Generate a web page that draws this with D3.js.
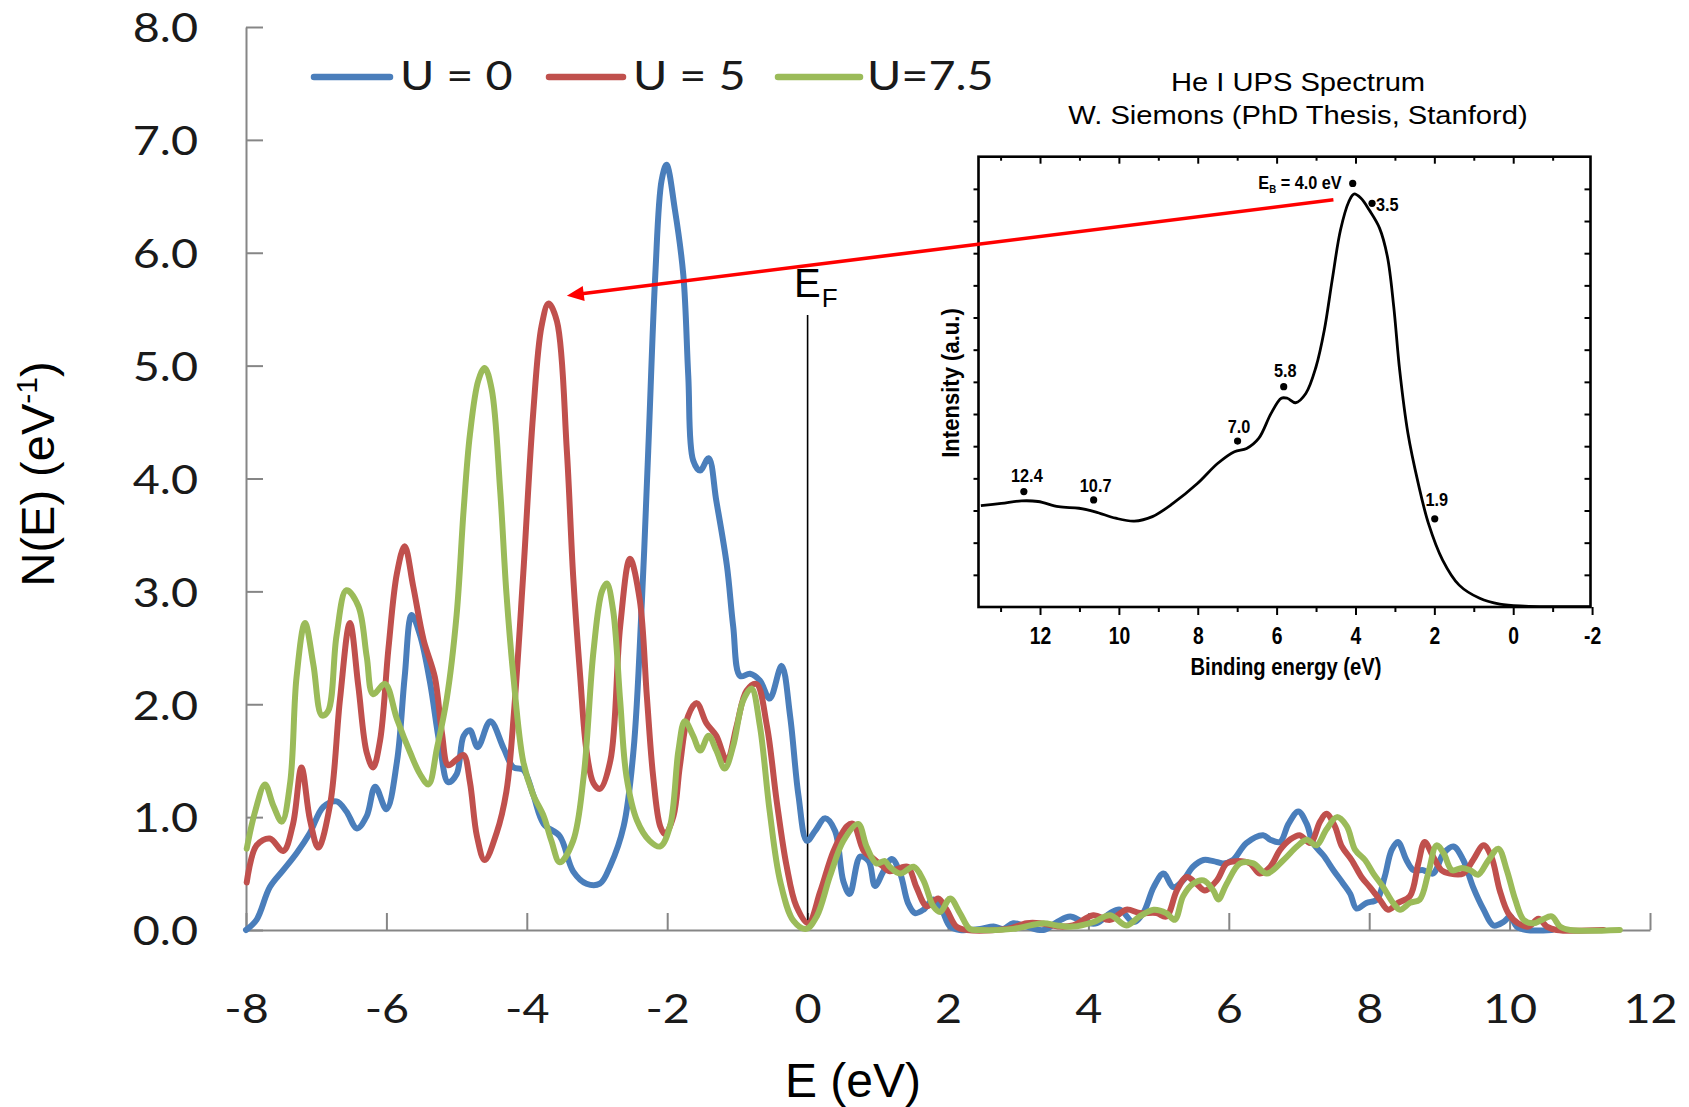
<!DOCTYPE html>
<html><head><meta charset="utf-8">
<script src="https://cdn.jsdelivr.net/npm/d3@7"></script>
<style>
html,body{margin:0;padding:0;background:#fff;}
svg{display:block;}
</style></head><body>
<svg id="chart" width="1689" height="1107"></svg>
<script>
// ---------------- DATA ----------------
const xTicks = [-8,-6,-4,-2,0,2,4,6,8,10,12];
const yTicks = [0,1,2,3,4,5,6,7,8];
const seriesNames = ["U = 0","U = 5","U=7.5"];
const seriesColors = ["#4A7EBB","#C0504D","#9BBB59"];

const u0E = [-8.0,-7.85,-7.66,-7.47,-7.28,-7.09,-6.90,-6.71,-6.57,-6.42,-6.28,-6.16,-6.0,-5.85,-5.74,-5.64,-5.52,-5.38,-5.24,-5.12,-5.0,-4.90,-4.81,-4.70,-4.52,-4.33,-4.19,-4.05,-3.91,-3.76,-3.53,-3.34,-3.15,-2.96,-2.81,-2.62,-2.48,-2.36,-2.27,-2.17,-2.08,-2.01,-1.89,-1.77,-1.70,-1.63,-1.53,-1.41,-1.30,-1.15,-1.06,-0.96,-0.82,-0.68,-0.54,-0.37,-0.25,-0.13,-0.01,0.11,0.25,0.39,0.51,0.60,0.75,0.87,0.96,1.08,1.20,1.32,1.43,1.53,1.65,1.79,1.91,2.03,2.17,2.46,2.65,2.79,2.93,3.12,3.36,3.55,3.74,3.93,4.12,4.31,4.45,4.64,4.78,4.93,5.07,5.21,5.35,5.49,5.64,5.78,5.92,6.06,6.25,6.49,6.59,6.73,6.85,6.99,7.11,7.20,7.35,7.49,7.63,7.73,7.82,7.96,8.11,8.22,8.32,8.41,8.53,8.63,8.77,8.91,9.06,9.20,9.34,9.48,9.63,9.77,9.91,10.01,10.10,10.24,10.60];
const u0N = [0,0.09,0.38,0.53,0.68,0.86,1.09,1.14,1.05,0.90,1.01,1.27,1.07,1.49,2.24,2.79,2.61,2.20,1.64,1.31,1.38,1.72,1.77,1.62,1.85,1.61,1.44,1.42,1.20,0.94,0.83,0.52,0.41,0.41,0.57,0.92,1.59,2.92,4.25,5.80,6.64,6.78,6.38,5.80,4.91,4.16,4.07,4.18,3.80,3.23,2.69,2.25,2.27,2.21,2.05,2.34,1.90,1.19,0.79,0.88,0.99,0.88,0.43,0.32,0.65,0.61,0.39,0.52,0.63,0.50,0.24,0.15,0.18,0.27,0.18,0.03,0.0,0.01,0.03,0.01,0.06,0.03,0.0,0.07,0.12,0.07,0.06,0.15,0.18,0.07,0.15,0.38,0.50,0.38,0.44,0.56,0.62,0.61,0.59,0.62,0.77,0.84,0.80,0.78,0.94,1.05,0.94,0.77,0.66,0.53,0.41,0.32,0.19,0.24,0.27,0.47,0.71,0.78,0.62,0.53,0.53,0.50,0.68,0.74,0.62,0.38,0.18,0.04,0.07,0.12,0.03,0,0];

const u5E = [-7.99,-7.85,-7.66,-7.47,-7.33,-7.21,-7.09,-6.97,-6.80,-6.66,-6.52,-6.40,-6.28,-6.19,-6.09,-5.97,-5.85,-5.74,-5.62,-5.47,-5.31,-5.21,-5.12,-5.0,-4.90,-4.81,-4.71,-4.60,-4.43,-4.29,-4.19,-4.05,-3.91,-3.79,-3.69,-3.57,-3.43,-3.34,-3.24,-3.15,-3.05,-2.96,-2.81,-2.67,-2.53,-2.39,-2.29,-2.20,-2.10,-2.03,-1.91,-1.82,-1.70,-1.58,-1.44,-1.30,-1.15,-1.01,-0.87,-0.73,-0.58,-0.44,-0.30,-0.16,0.01,0.18,0.37,0.56,0.65,0.80,0.94,1.06,1.17,1.32,1.43,1.55,1.70,1.86,1.98,2.12,2.27,2.84,3.12,3.31,3.59,3.78,4.07,4.31,4.54,4.73,4.97,5.11,5.26,5.40,5.54,5.66,5.83,5.97,6.11,6.30,6.44,6.59,6.73,6.87,7.01,7.16,7.30,7.39,7.51,7.61,7.75,7.89,8.01,8.15,8.27,8.41,8.58,8.70,8.79,8.91,9.03,9.15,9.34,9.48,9.63,9.74,9.86,9.98,10.12,10.27,10.41,10.53,10.67,11.34];
const u5N = [0.42,0.75,0.81,0.70,0.94,1.44,0.98,0.73,1.12,2.05,2.72,2.16,1.57,1.44,1.68,2.50,3.16,3.40,3.05,2.57,2.24,1.75,1.46,1.51,1.55,1.31,0.83,0.62,0.86,1.23,1.87,3.16,4.57,5.35,5.55,5.39,4.25,3.14,2.25,1.59,1.30,1.25,1.50,2.69,3.29,2.92,2.07,1.36,0.92,0.85,1.01,1.45,1.90,2.01,1.83,1.72,1.50,1.81,2.12,2.18,1.81,1.14,0.57,0.21,0.06,0.34,0.70,0.92,0.94,0.70,0.63,0.57,0.52,0.55,0.56,0.38,0.21,0.28,0.18,0.03,0,0.01,0.06,0.06,0.03,0.04,0.13,0.09,0.18,0.15,0.15,0.12,0.35,0.47,0.41,0.35,0.44,0.59,0.61,0.59,0.50,0.56,0.71,0.80,0.84,0.77,0.96,1.03,0.92,0.74,0.62,0.47,0.38,0.27,0.18,0.24,0.30,0.59,0.78,0.65,0.53,0.50,0.50,0.62,0.75,0.65,0.35,0.15,0.06,0.03,0.10,0.03,0,0];

const u75E = [-7.99,-7.87,-7.73,-7.61,-7.49,-7.37,-7.28,-7.16,-7.04,-6.92,-6.83,-6.71,-6.57,-6.40,-6.28,-6.19,-6.02,-5.85,-5.66,-5.52,-5.40,-5.28,-5.14,-5.0,-4.90,-4.81,-4.69,-4.60,-4.50,-4.38,-4.29,-4.19,-4.05,-3.91,-3.76,-3.65,-3.53,-3.34,-3.19,-3.05,-2.93,-2.86,-2.77,-2.67,-2.58,-2.43,-2.25,-2.10,-1.96,-1.84,-1.75,-1.63,-1.53,-1.41,-1.30,-1.18,-1.06,-0.92,-0.80,-0.68,-0.54,-0.39,-0.20,-0.02,0.13,0.32,0.51,0.72,0.84,0.98,1.10,1.17,1.32,1.51,1.65,1.79,1.89,2.03,2.17,2.31,2.46,2.93,3.36,3.55,3.78,4.07,4.31,4.54,4.73,4.93,5.11,5.23,5.35,5.49,5.64,5.78,5.85,5.97,6.16,6.35,6.54,6.78,6.97,7.11,7.25,7.39,7.54,7.68,7.80,7.94,8.06,8.20,8.34,8.44,8.58,8.72,8.84,8.96,9.06,9.18,9.32,9.44,9.55,9.70,9.84,9.96,10.08,10.20,10.34,10.46,10.60,10.72,10.86,11.57];
const u75N = [0.72,1.05,1.29,1.10,0.96,1.31,2.24,2.72,2.35,1.90,1.94,2.61,3.01,2.87,2.42,2.09,2.18,1.87,1.57,1.38,1.29,1.61,2.05,2.79,3.72,4.39,4.87,4.98,4.79,3.90,2.98,2.24,1.49,1.20,1.01,0.79,0.60,0.79,1.36,2.47,3.00,3.07,2.83,2.03,1.36,0.97,0.79,0.74,0.92,1.59,1.85,1.72,1.59,1.72,1.59,1.43,1.63,2.03,2.14,1.81,1.05,0.43,0.08,0.01,0.12,0.48,0.79,0.94,0.74,0.59,0.61,0.56,0.50,0.56,0.44,0.21,0.16,0.28,0.15,0.01,0,0.01,0.06,0.04,0.03,0.07,0.13,0.04,0.12,0.18,0.15,0.09,0.30,0.41,0.44,0.35,0.27,0.41,0.59,0.59,0.50,0.62,0.74,0.80,0.75,0.89,1.00,0.92,0.71,0.62,0.50,0.38,0.24,0.18,0.24,0.27,0.50,0.75,0.68,0.53,0.55,0.53,0.49,0.62,0.72,0.53,0.27,0.09,0.06,0.09,0.12,0.03,0,0];

// Inset: He I UPS spectrum (binding energy in eV, intensity in a.u.)
const insetXTicks = [12,10,8,6,4,2,0,-2];
const insetXMinor = [13,11,9,7,5,3,1,-1];
const insetYTicks = [1,2,3,4,5,6,7,8,9,10,11,12,13];
const insetBE = [13.50,12.98,12.47,12.05,11.53,11.01,10.60,10.08,9.61,9.15,8.63,8.01,7.49,7.07,6.76,6.45,6.14,5.88,5.73,5.52,5.26,5.00,4.79,4.59,4.38,4.17,4.04,3.86,3.65,3.39,3.19,3.03,2.88,2.67,2.41,2.15,1.79,1.37,0.85,0.34,-0.29,-1.95];
const insetI = [3.15,3.22,3.30,3.28,3.12,3.07,2.96,2.76,2.67,2.81,3.22,3.84,4.47,4.83,4.93,5.25,6.02,6.49,6.49,6.35,6.64,7.47,8.61,10.17,11.72,12.60,12.84,12.71,12.34,11.78,10.89,9.34,7.37,5.40,3.85,2.60,1.46,0.68,0.27,0.09,0.03,0.01];
const peakLabels = ["12.4","10.7","7.0","5.8","1.9","3.5","4.0"];
const peakBE = [12.41,10.64,6.99,5.82,1.99,3.58,4.07];
const peakI  = [3.59,3.33,5.16,6.85,2.74,12.55,13.17];
const insetTitle = ["He I UPS Spectrum","W. Siemons (PhD Thesis, Stanford)"];
// arrow: from inset point (BE, I) to main-chart point (E, N)
const arrowFrom = [4.56, 12.66];
const arrowTo = [-3.43, 5.62];

// ---------------- STYLE / LAYOUT ----------------
const W = 1689, H = 1107;
const svg = d3.select('#chart');
svg.append('rect').attr('width', W).attr('height', H).attr('fill', '#fff');

const x = d3.scaleLinear().domain([-8, 12]).range([246, 1650]);
const y = d3.scaleLinear().domain([0, 8]).range([930, 27]);

function stretch(sel, sx) {
  sel.each(function () {
    const t = d3.select(this);
    const tx = +t.attr('x') || 0, ty = +t.attr('y') || 0;
    t.attr('x', 0).attr('y', 0).attr('transform', `translate(${tx},${ty}) scale(${sx},1)`);
  });
}

const axisColor = '#868686';
const tickFont = 'Lato, "Open Sans", sans-serif';
const SX = 1.14;

// y axis
const yAxis = svg.append('g').attr('transform', 'translate(246,0)')
  .call(d3.axisLeft(y).tickValues(yTicks).tickSizeInner(-17).tickSizeOuter(0).tickPadding(48)
    .tickFormat(d => d.toFixed(1)));
yAxis.select('.domain').attr('stroke', axisColor).attr('stroke-width', 2);
yAxis.selectAll('.tick line').attr('stroke', axisColor).attr('stroke-width', 2);
yAxis.selectAll('.tick text').attr('font-family', tickFont).attr('font-size', 41)
  .attr('fill', '#1a1a1a').attr('dy', '0.36em');
stretch(yAxis.selectAll('.tick text'), SX);

// x axis
const xAxis = svg.append('g').attr('transform', 'translate(0,930)')
  .call(d3.axisBottom(x).tickValues(xTicks).tickSizeInner(-17).tickSizeOuter(0).tickPadding(0)
    .tickFormat(d => String(d)));
xAxis.select('.domain').attr('stroke', axisColor).attr('stroke-width', 2);
xAxis.selectAll('.tick line').attr('stroke', axisColor).attr('stroke-width', 2);
xAxis.selectAll('.tick text').attr('font-family', tickFont).attr('font-size', 41)
  .attr('fill', '#1a1a1a').attr('y', 78).attr('dy', '0.36em');
stretch(xAxis.selectAll('.tick text'), SX);

// axis titles
const yTitle = svg.append('text')
  .attr('transform', 'translate(54,474) rotate(-90)')
  .attr('text-anchor', 'middle')
  .attr('font-family', '"Liberation Sans", Arial, sans-serif')
  .attr('font-size', 47).attr('fill', '#000');
yTitle.append('tspan').text('N(E) (eV');
yTitle.append('tspan').attr('font-size', 30).attr('dy', -17).text('-1');
yTitle.append('tspan').attr('dy', 17).text(')');

svg.append('text').attr('x', 853).attr('y', 1097).attr('text-anchor', 'middle')
  .attr('font-family', '"Liberation Sans", Arial, sans-serif')
  .attr('font-size', 48).attr('fill', '#000').text('E (eV)');

// E_F marker
svg.append('line').attr('x1', x(0)).attr('x2', x(0)).attr('y1', 315).attr('y2', y(0))
  .attr('stroke', '#000').attr('stroke-width', 1.6);
const ef = svg.append('text').attr('x', 794).attr('y', 297)
  .attr('font-family', '"Liberation Sans", Arial, sans-serif').attr('font-size', 40).attr('fill', '#000');
ef.append('tspan').text('E');
ef.append('tspan').attr('font-size', 26).attr('dy', 10).attr('dx', 1).text('F');

// series lines
const line = d3.line().x(d => x(d[0])).y(d => y(d[1])).curve(d3.curveCatmullRom.alpha(0.5));
const series = [
  { name: seriesNames[0], E: u0E, N: u0N, color: seriesColors[0] },
  { name: seriesNames[1], E: u5E, N: u5N, color: seriesColors[1] },
  { name: seriesNames[2], E: u75E, N: u75N, color: seriesColors[2] }
];
svg.append('g').selectAll('path').data(series).join('path')
  .attr('d', s => line(d3.zip(s.E, s.N)))
  .attr('fill', 'none').attr('stroke', s => s.color).attr('stroke-width', 6)
  .attr('stroke-linejoin', 'round').attr('stroke-linecap', 'round');

// legend
const legendPos = [{ x1: 314, x2: 390, tx: 400 }, { x1: 549, x2: 623, tx: 633 }, { x1: 778, x2: 860, tx: 867 }];
const lg = svg.append('g');
series.forEach((s, i) => {
  const p = legendPos[i];
  lg.append('line').attr('x1', p.x1).attr('x2', p.x2).attr('y1', 77).attr('y2', 77)
    .attr('stroke', s.color).attr('stroke-width', 6.5).attr('stroke-linecap', 'round');
  lg.append('text').attr('x', p.tx).attr('y', 90).attr('font-family', tickFont)
    .attr('font-size', 41).attr('fill', '#1a1a1a').text(s.name);
});
stretch(lg.selectAll('text'), SX);

// ---------------- INSET ----------------
const ix = d3.scaleLinear().domain([13.56, -1.96]).range([978.5, 1590.5]);
const iy = d3.scaleLinear().domain([0, 14]).range([607, 156.7]);
const inset = svg.append('g');
const boldFont = '"Liberation Sans", Arial, Helvetica, sans-serif';

inset.append('rect').attr('x', 978.5).attr('y', 156.7).attr('width', 612).attr('height', 450.3)
  .attr('fill', '#fff').attr('stroke', '#000').attr('stroke-width', 2.6);

// inset title
insetTitle.forEach((t, i) => {
  const tt = inset.append('text').attr('x', 1298).attr('y', 90.5 + i * 33)
    .attr('text-anchor', 'middle').attr('font-family', boldFont).attr('font-size', 26.5)
    .attr('fill', '#000').text(t);
  stretch(tt, 1.1);
});

// bottom axis (major + minor)
const ib = inset.append('g').attr('transform', 'translate(0,607)')
  .call(d3.axisBottom(ix).tickValues(insetXTicks).tickSizeInner(8).tickSizeOuter(0).tickPadding(13)
    .tickFormat(d => String(d)));
ib.select('.domain').remove();
ib.selectAll('.tick line').attr('stroke', '#000').attr('stroke-width', 2);
ib.selectAll('.tick text').attr('font-family', boldFont).attr('font-weight', 'bold')
  .attr('font-size', 23).attr('fill', '#000');
stretch(ib.selectAll('.tick text'), 0.84);
const ibm = inset.append('g').attr('transform', 'translate(0,607)')
  .call(d3.axisBottom(ix).tickValues(insetXMinor).tickSizeInner(5).tickSizeOuter(0).tickFormat(''));
ibm.select('.domain').remove();
ibm.selectAll('.tick line').attr('stroke', '#000').attr('stroke-width', 2);

// top axis ticks (inside)
const it = inset.append('g').attr('transform', 'translate(0,156.7)')
  .call(d3.axisTop(ix).tickValues(insetXTicks.slice(0, -1)).tickSizeInner(-7).tickSizeOuter(0).tickFormat(''));
it.select('.domain').remove();
it.selectAll('.tick line').attr('stroke', '#000').attr('stroke-width', 2);
const itm = inset.append('g').attr('transform', 'translate(0,156.7)')
  .call(d3.axisTop(ix).tickValues(insetXMinor).tickSizeInner(-4).tickSizeOuter(0).tickFormat(''));
itm.select('.domain').remove();
itm.selectAll('.tick line').attr('stroke', '#000').attr('stroke-width', 2);

// left (outside) and right (inside) ticks
const il = inset.append('g').attr('transform', 'translate(978.5,0)')
  .call(d3.axisLeft(iy).tickValues(insetYTicks).tickSizeInner(5).tickSizeOuter(0).tickFormat(''));
il.select('.domain').remove();
il.selectAll('.tick line').attr('stroke', '#000').attr('stroke-width', 2);
const ir = inset.append('g').attr('transform', 'translate(1590.5,0)')
  .call(d3.axisLeft(iy).tickValues(insetYTicks).tickSizeInner(6).tickSizeOuter(0).tickFormat(''));
ir.select('.domain').remove();
ir.selectAll('.tick line').attr('stroke', '#000').attr('stroke-width', 2);

// inset axis titles
const bx = inset.append('text').attr('x', 1286).attr('y', 675).attr('text-anchor', 'middle')
  .attr('font-family', boldFont).attr('font-weight', 'bold').attr('font-size', 23).attr('fill', '#000')
  .text('Binding energy (eV)');
stretch(bx, 0.88);
inset.append('text').attr('transform', 'translate(959,383) rotate(-90) scale(0.96,1)')
  .attr('text-anchor', 'middle').attr('font-family', boldFont).attr('font-weight', 'bold')
  .attr('font-size', 23).attr('fill', '#000').text('Intensity (a.u.)');

// inset curve
const iline = d3.line().x(d => ix(d[0])).y(d => iy(d[1])).curve(d3.curveCatmullRom.alpha(0.5));
inset.append('path').attr('d', iline(d3.zip(insetBE, insetI)))
  .attr('fill', 'none').attr('stroke', '#000').attr('stroke-width', 2.8).attr('stroke-linejoin', 'round');

// peak markers and labels
const labelOffsets = [
  { dx: 3, dy: -10, anchor: 'middle' }, { dx: 2, dy: -8, anchor: 'middle' },
  { dx: 1.5, dy: -8, anchor: 'middle' }, { dx: 1.5, dy: -10, anchor: 'middle' },
  { dx: 2, dy: -13, anchor: 'middle' }, { dx: 4, dy: 8, anchor: 'start' },
  { dx: -11, dy: 6, anchor: 'end' }
];
peakLabels.forEach((lab, i) => {
  const px = ix(peakBE[i]), py = iy(peakI[i]);
  inset.append('circle').attr('cx', px).attr('cy', py).attr('r', 3.6).attr('fill', '#000');
  const o = labelOffsets[i];
  const t = inset.append('text').attr('x', px + o.dx).attr('y', py + o.dy)
    .attr('text-anchor', o.anchor).attr('font-family', boldFont).attr('font-weight', 'bold')
    .attr('font-size', 18.5).attr('fill', '#000');
  if (lab === '4.0') {
    t.append('tspan').text('E');
    t.append('tspan').attr('font-size', 11).attr('dy', 4).text('B');
    t.append('tspan').attr('dy', -4).text(' = ' + lab + ' eV');
  } else {
    t.text(lab);
  }
  stretch(t, 0.88);
});

// red arrow from inset peak to main-chart peak
const sx0 = ix(arrowFrom[0]), sy0 = iy(arrowFrom[1]);
const tx0 = x(arrowTo[0]), ty0 = y(arrowTo[1]);
const len = Math.hypot(tx0 - sx0, ty0 - sy0);
const ux = (tx0 - sx0) / len, uy = (ty0 - sy0) / len;
const headL = 17, headW = 7.5;
const bxp = tx0 - ux * headL, byp = ty0 - uy * headL;
svg.append('line').attr('x1', sx0).attr('y1', sy0).attr('x2', bxp + ux * 2).attr('y2', byp + uy * 2)
  .attr('stroke', '#FF0000').attr('stroke-width', 3.6);
svg.append('polygon')
  .attr('points', [[tx0, ty0], [bxp - uy * headW, byp + ux * headW], [bxp + uy * headW, byp - ux * headW]].map(p => p.join(',')).join(' '))
  .attr('fill', '#FF0000');
</script>
</body></html>
